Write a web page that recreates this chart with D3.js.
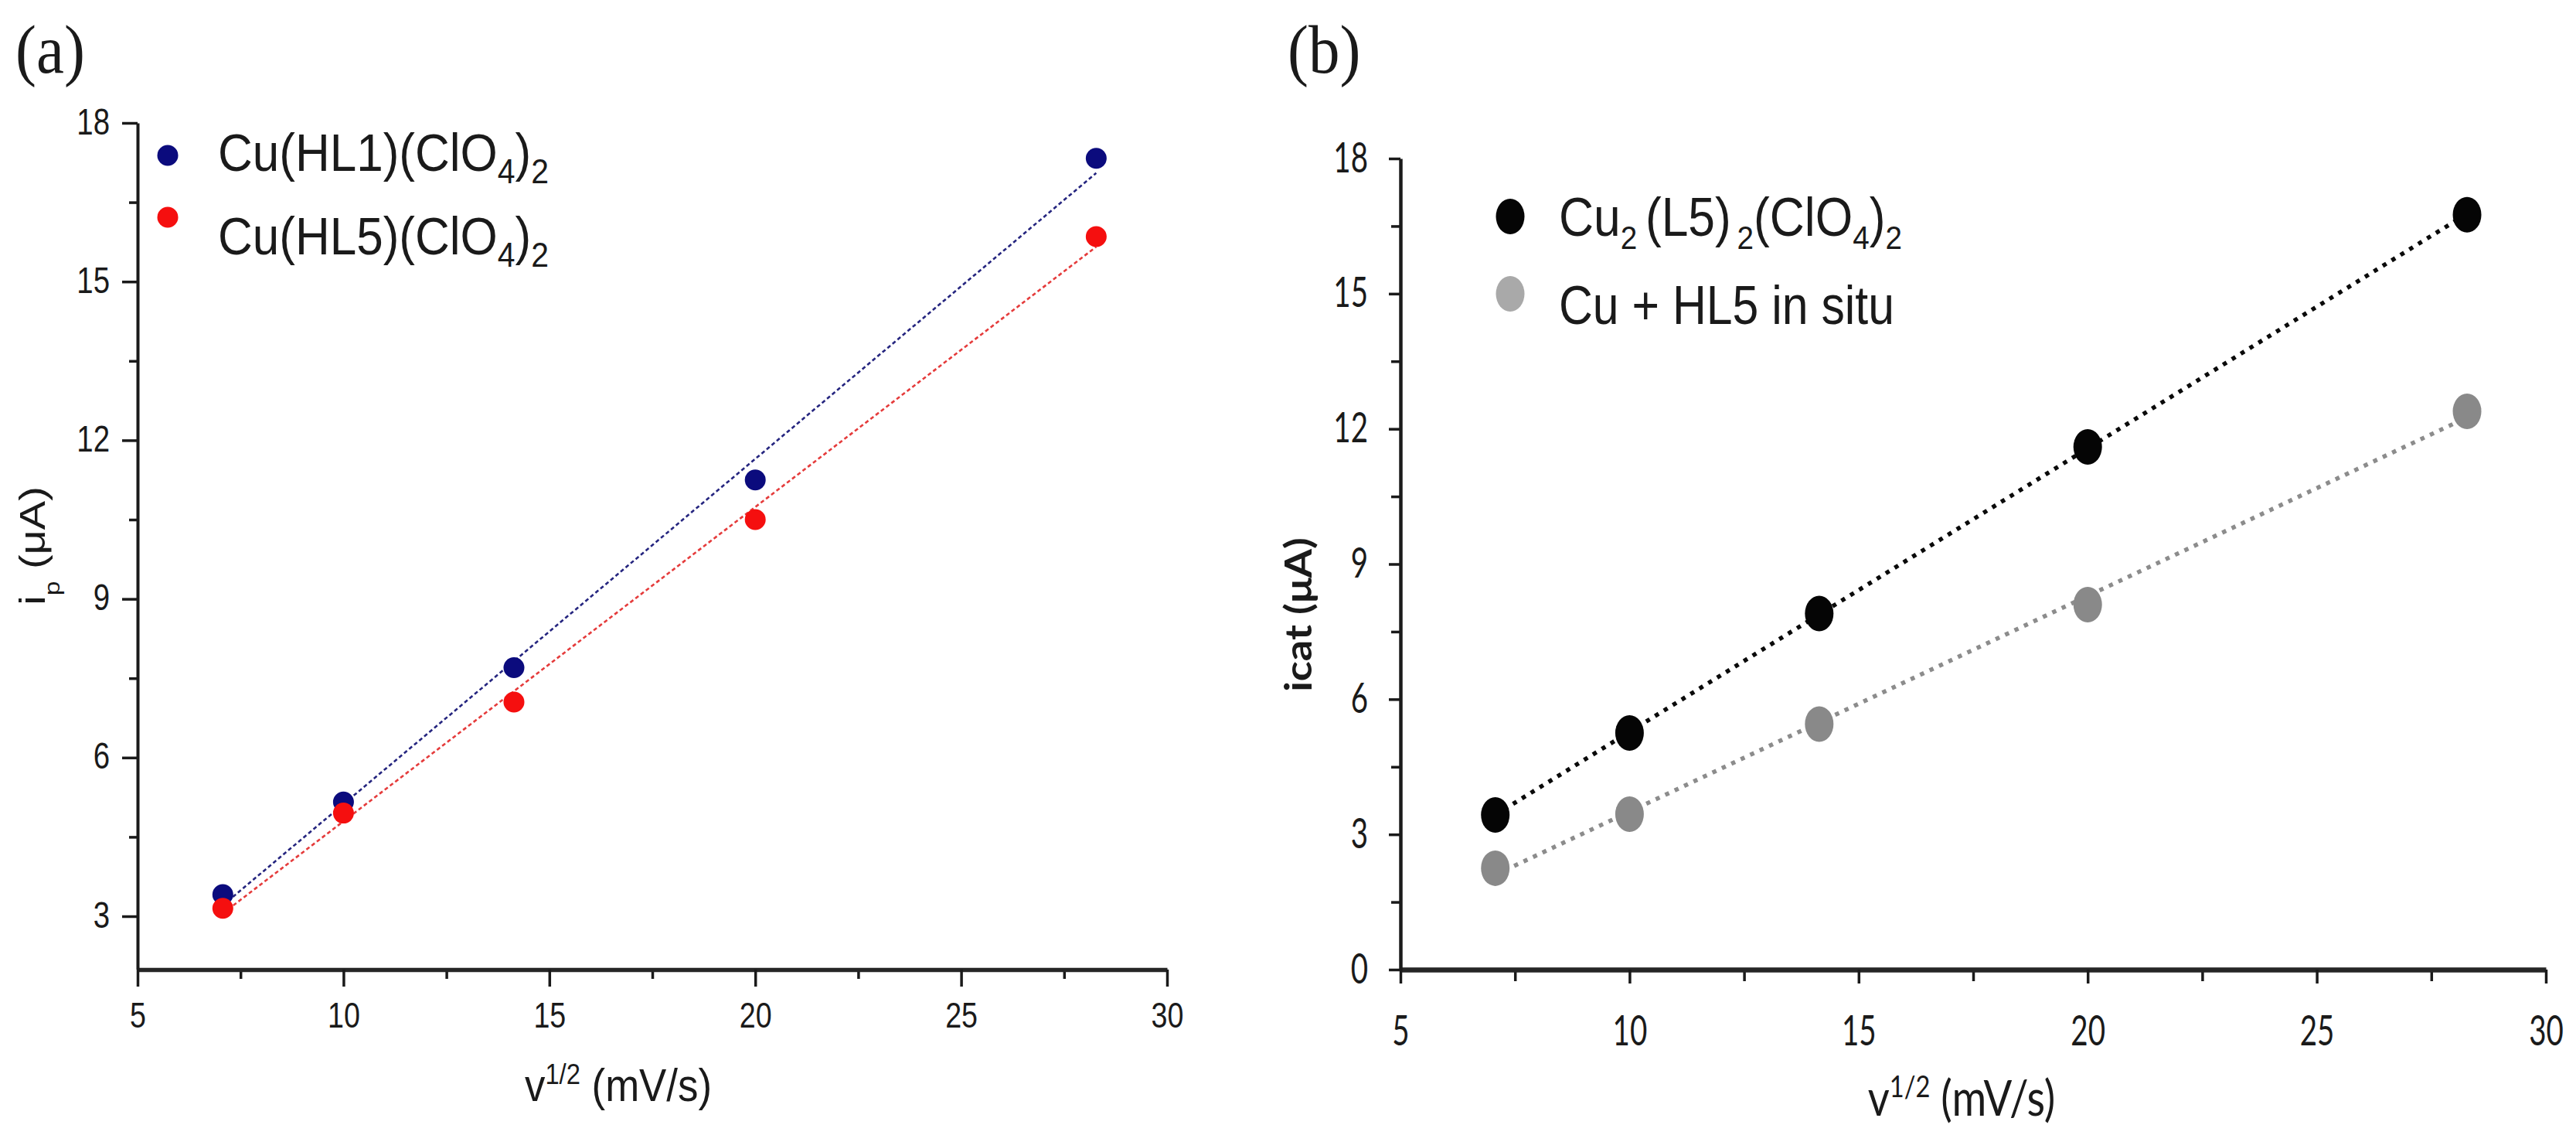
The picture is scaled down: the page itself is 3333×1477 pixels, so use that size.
<!DOCTYPE html>
<html>
<head>
<meta charset="utf-8">
<script src="https://cdn.jsdelivr.net/npm/d3@7"></script>
<style>
    html, body { margin: 0; padding: 0; background: #fff; }
    svg { display: block; }
    text { white-space: pre; }
</style>
</head>
<body>
<svg id="chart" width="3333" height="1477"></svg>
<script>
// square root of scan rate, v^1/2 (mV/s)
const sqrtRate = [7.07, 10, 14.14, 20, 28.28];

// panel (a): peak currents ip (uA)
const ipHL1 = [3.41, 5.16, 7.7, 11.25, 17.33];
const ipHL5 = [3.15, 4.95, 7.05, 10.5, 15.85];

// panel (b): catalytic currents icat (uA)
const icatCu2L5 = [3.43, 5.25, 7.9, 11.6, 16.75];
const icatInSitu = [2.25, 3.45, 5.45, 8.1, 12.39];

// ticks
const xTicks = [5, 10, 15, 20, 25, 30];
const xMinor = [7.5, 12.5, 17.5, 22.5, 27.5];
const yTicksA = [3, 6, 9, 12, 15, 18];
const yMinorA = [4.5, 7.5, 10.5, 13.5, 16.5];
const yTicksB = [0, 3, 6, 9, 12, 15, 18];
const yMinorB = [1.5, 4.5, 7.5, 10.5, 13.5, 16.5];

const svg = d3.select('#chart');

// least squares line through the points
function fit(xs, ys) {
    const mx = d3.mean(xs), my = d3.mean(ys);
    const sxy = d3.sum(xs, (x, i) => (x - mx) * (ys[i] - my));
    const sxx = d3.sum(xs, x => (x - mx) ** 2);
    const m = sxy / sxx;
    return x => my + m * (x - mx);
}

// text made of runs with sub/superscripts: parts = [str, sizeFactor, shiftEm]
function richText(parent, transform, size, parts, anchor) {
    const t = parent.append('text')
        .attr('transform', transform)
        .attr('font-size', size)
        .attr('text-anchor', anchor || 'start');
    let shift = 0;
    parts.forEach(([str, scale, off]) => {
        const target = (off || 0) * size;
        t.append('tspan')
            .attr('font-size', size * (scale || 1))
            .attr('dy', target - shift)
            .text(str);
        shift = target;
    });
    return t;
}

// squeeze a text horizontally to a measured width
function fitWidth(t, x, y, width) {
    const w = t.node().getBBox().width;
    t.attr('transform', `translate(${x},${y}) scale(${width / w},1)`);
}

function styleAxis(g, font, size, lineW) {
    g.attr('font-family', font).attr('font-size', size);
    g.selectAll('.tick line').attr('stroke', '#1a1a1a').attr('stroke-width', lineW);
    g.selectAll('.tick text').attr('fill', '#1a1a1a');
}

function bottomAxis(x, yPos, opt) {
    const minor = svg.append('g').attr('transform', `translate(0,${yPos})`)
        .call(d3.axisBottom(x).tickValues(xMinor).tickSize(opt.minor).tickFormat('').tickSizeOuter(0));
    minor.select('.domain').remove();
    styleAxis(minor, opt.font, opt.size, opt.tickW);

    const major = svg.append('g').attr('transform', `translate(0,${yPos})`)
        .call(d3.axisBottom(x).tickValues(xTicks).tickSize(opt.major).tickSizeOuter(0));
    styleAxis(major, opt.font, opt.size, opt.tickW);
    major.select('.domain').attr('stroke', '#262626').attr('stroke-width', opt.domainW);
    major.selectAll('.tick text')
        .attr('y', null).attr('dy', null)
        .attr('transform', `translate(0,${opt.labelY}) scale(${opt.k},1)`);
}

function leftAxis(y, xPos, ticks, minorTicks, opt) {
    const minor = svg.append('g').attr('transform', `translate(${xPos},0)`)
        .call(d3.axisLeft(y).tickValues(minorTicks).tickSize(opt.minor).tickFormat('').tickSizeOuter(0));
    minor.select('.domain').remove();
    styleAxis(minor, opt.font, opt.size, opt.tickW);

    const major = svg.append('g').attr('transform', `translate(${xPos},0)`)
        .call(d3.axisLeft(y).tickValues(ticks).tickSize(opt.major).tickSizeOuter(0));
    styleAxis(major, opt.font, opt.size, opt.tickW);
    major.select('.domain').attr('stroke', '#1a1a1a').attr('stroke-width', opt.domainW);
    major.selectAll('.tick text')
        .attr('x', null).attr('dy', null)
        .attr('transform', `translate(${-opt.gap},${opt.labelY}) scale(${opt.k},1)`);
}

// ---------------- panel (a) ----------------
const arial = '"Liberation Sans", Arial, sans-serif';
const xA = d3.scaleLinear().domain([5, 30]).range([178, 1510]);
const yA = d3.scaleLinear().domain([2, 18]).range([1253.4, 159]);

const lineA = svg.append('g');
[[ipHL1, '#25257f'], [ipHL5, '#e53b3b']].forEach(([ys, color]) => {
    const f = fit(sqrtRate, ys);
    const x0 = sqrtRate[0], x1 = sqrtRate[sqrtRate.length - 1];
    lineA.append('line')
        .attr('x1', xA(x0)).attr('y1', yA(f(x0)))
        .attr('x2', xA(x1)).attr('y2', yA(f(x1)))
        .attr('stroke', color)
        .attr('stroke-width', 2.6)
        .attr('stroke-dasharray', '5 3.5');
});

[[ipHL1, '#0b0b7d'], [ipHL5, '#f50f0f']].forEach(([ys, color]) => {
    svg.append('g').selectAll('circle')
        .data(sqrtRate.map((x, i) => [x, ys[i]]))
        .enter().append('circle')
        .attr('cx', d => xA(d[0]))
        .attr('cy', d => yA(d[1]))
        .attr('r', 13.5)
        .attr('fill', color);
});

bottomAxis(xA, 1254, { font: arial, size: 47, k: 0.8, major: 22, minor: 12, tickW: 3.5, domainW: 5.5, labelY: 75 });
leftAxis(yA, 178, yTicksA, yMinorA, { font: arial, size: 48, k: 0.8, major: 20, minor: 11, tickW: 3.5, domainW: 4, gap: 36, labelY: 14 });

// legend (a)
const legA = svg.append('g').attr('font-family', arial).attr('fill', '#1a1a1a');
[['Cu(HL1)(ClO', '#0b0b7d', 201, 221], ['Cu(HL5)(ClO', '#f50f0f', 281, 329]].forEach(([name, color, dotY, baseY]) => {
    legA.append('circle').attr('cx', 217).attr('cy', dotY).attr('r', 13.5).attr('fill', color);
    const t = richText(legA, `translate(282,${baseY})`, 68,
        [[name], ['4', 0.66, 0.24], [')', 1, 0], ['2', 0.66, 0.24]]);
    fitWidth(t, 282, baseY, 428);
});

// axis titles (a)
const titleA = svg.append('g').attr('font-family', arial).attr('fill', '#1a1a1a');
richText(titleA, 'translate(800,1424) scale(0.88,1)', 60,
    [['v'], ['1/2', 0.62, -0.36], [' (mV/s)', 1, 0]], 'middle');
richText(titleA, 'translate(58,706) rotate(-90) scale(1,0.82)', 56,
    [['i'], ['p', 0.6, 0.41], [' (\u03bcA)', 1, 0]], 'middle');

svg.append('text')
    .attr('transform', 'translate(20,94) scale(0.92,1)')
    .attr('font-family', '"Liberation Serif", "Times New Roman", serif')
    .attr('font-size', 88)
    .attr('fill', '#1a1a1a')
    .text('(a)');

// ---------------- panel (b) ----------------
const lato = 'Lato, "Open Sans", sans-serif';
const xB = d3.scaleLinear().domain([5, 30]).range([1812, 3294]);
const yB = d3.scaleLinear().domain([0, 18]).range([1254, 205]);

const lineB = svg.append('g');
[[icatCu2L5, '#0a0a0a'], [icatInSitu, '#8c8c8c']].forEach(([ys, color]) => {
    const f = fit(sqrtRate, ys);
    const x0 = sqrtRate[0], x1 = sqrtRate[sqrtRate.length - 1];
    lineB.append('line')
        .attr('x1', xB(x0)).attr('y1', yB(f(x0)))
        .attr('x2', xB(x1)).attr('y2', yB(f(x1)))
        .attr('stroke', color)
        .attr('stroke-width', 5.5)
        .attr('stroke-dasharray', '5.5 8');
});

[[icatCu2L5, '#050505'], [icatInSitu, '#898989']].forEach(([ys, color]) => {
    svg.append('g').selectAll('ellipse')
        .data(sqrtRate.map((x, i) => [x, ys[i]]))
        .enter().append('ellipse')
        .attr('cx', d => xB(d[0]))
        .attr('cy', d => yB(d[1]))
        .attr('rx', 18.5)
        .attr('ry', 23)
        .attr('fill', color);
});

bottomAxis(xB, 1254, { font: lato, size: 55, k: 0.7, major: 18, minor: 15, tickW: 3.5, domainW: 6.5, labelY: 98 });
leftAxis(yB, 1812, yTicksB, yMinorB, { font: lato, size: 55, k: 0.7, major: 15, minor: 12, tickW: 3.5, domainW: 4.5, gap: 42, labelY: 17 });

// legend (b)
const legB = svg.append('g').attr('font-family', arial).attr('fill', '#1a1a1a');
legB.append('ellipse').attr('cx', 1954).attr('cy', 280).attr('rx', 18.5).attr('ry', 23).attr('fill', '#050505');
legB.append('ellipse').attr('cx', 1954).attr('cy', 380).attr('rx', 18.5).attr('ry', 23).attr('fill', '#a9a9a9');
const l1 = richText(legB, 'translate(2017,305)', 70,
    [['Cu'], ['2 ', 0.62, 0.24], ['(L5)', 1, 0], ['\u20092', 0.62, 0.24], ['(ClO', 1, 0], ['4', 0.62, 0.24], [')', 1, 0], ['2', 0.62, 0.24]]);
fitWidth(l1, 2017, 305, 444);
const l2 = richText(legB, 'translate(2017,419)', 70, [['Cu + HL5 in situ']]);
fitWidth(l2, 2017, 419, 434);

// axis titles (b)
const titleB = svg.append('g').attr('font-family', lato).attr('fill', '#1a1a1a');
richText(titleB, 'translate(2538,1443) scale(0.85,1)', 64,
    [['v'], ['1/2', 0.6, -0.38], [' (mV/s)', 1, 0]], 'middle');
richText(titleB, 'translate(1697,795) rotate(-90) scale(1,0.9)', 54,
    [['icat (\u03bcA)']], 'middle').attr('font-weight', 700);

svg.append('text')
    .attr('transform', 'translate(1666,94) scale(0.92,1)')
    .attr('font-family', '"Liberation Serif", "Times New Roman", serif')
    .attr('font-size', 88)
    .attr('fill', '#1a1a1a')
    .text('(b)');
</script>
</body>
</html>
